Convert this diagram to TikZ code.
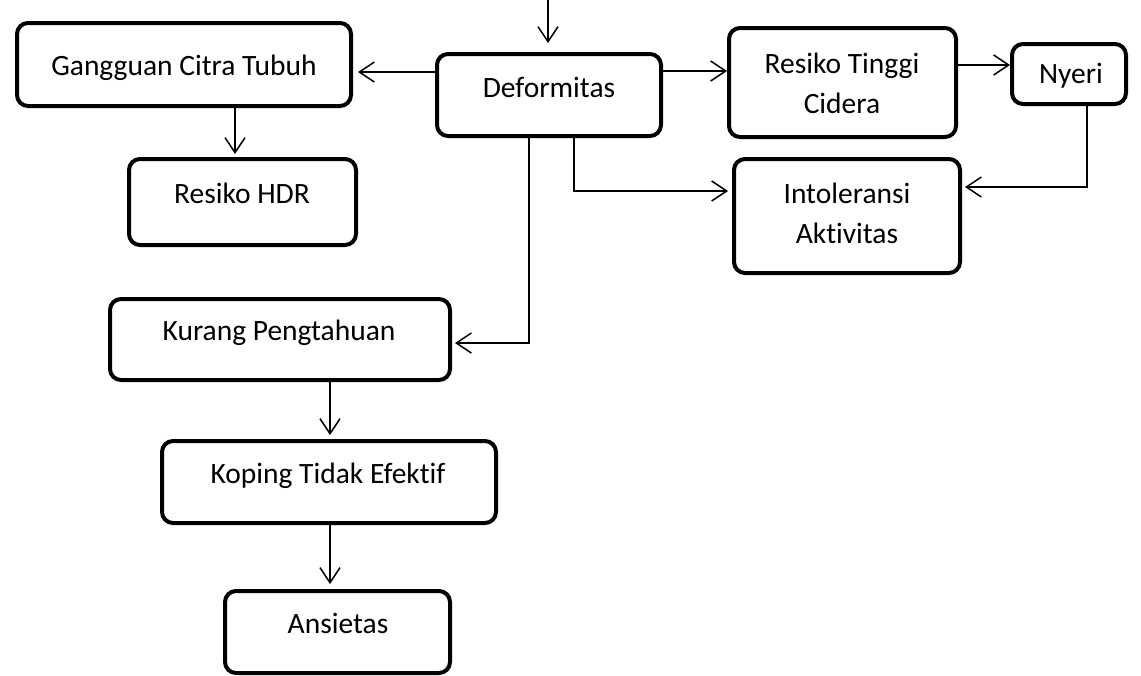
\documentclass[tikz,border=0pt]{standalone}
\usepackage{fontspec}
\setmainfont{Carlito}[Ligatures=NoCommon]
\usetikzlibrary{arrows.meta}
\tikzset{
  box/.style={draw, line width=4pt, rounded corners=11pt, inner sep=0pt},
  lbl/.style={anchor=base, inner sep=0pt, align=center, font=\fontsize{29.5}{40}\selectfont},
  arr/.style={line width=1.5pt, -{Straight Barb[length=15pt,width=20pt]}}
}
\begin{document}
\begin{tikzpicture}[x=1pt,y=-1pt]
\useasboundingbox (0,0) rectangle (1141,675);
% boxes
\node[box, minimum width=334pt, minimum height=83pt] (gct) at (184,64.5) {};
\node[box, minimum width=227pt, minimum height=86pt] (hdr) at (242.5,202) {};
\node[box, minimum width=224pt, minimum height=82pt] (def) at (549,95) {};
\node[box, minimum width=227pt, minimum height=109pt] (rtc) at (842.5,82.5) {};
\node[box, minimum width=114pt, minimum height=60pt] (nye) at (1069,74) {};
\node[box, minimum width=226pt, minimum height=114pt] (into) at (847,216) {};
\node[box, minimum width=340pt, minimum height=81pt] (kp) at (280,339.5) {};
\node[box, minimum width=334pt, minimum height=82pt] (kte) at (329,482) {};
\node[box, minimum width=225pt, minimum height=82pt] (ans) at (337.5,632) {};
% texts
\node[lbl] (tgct) at (184,75) {Gangguan Citra Tubuh};
\node[lbl] (thdr) at (242,203) {Resiko HDR};
\node[lbl] (tdef) at (549,97) {Deformitas};
\node[lbl] (trtc) at (842,113) {Resiko Tinggi\\Cidera};
\node[lbl] (tnye) at (1071,83) {Nyeri};
\node[lbl] (tinto) at (847,243) {Intoleransi\\Aktivitas};
\node[lbl] (tkp) at (279,340) {Kurang Pengtahuan};
\node[lbl] (tkte) at (328,483) {Koping Tidak Efektif};
\node[lbl] (tans) at (338,633) {Ansietas};
% connectors
\coordinate (src) at (548,0);
\draw[arr, shorten >=9pt] (src) -- (def.north -| src);
\draw[arr, shorten >=5pt] (def.west |- 0,72) -- (gct.east |- 0,72);
\draw[arr] (def.east |- 0,71) -- (rtc.west |- 0,71);
\draw[arr] (rtc.east |- 0,65) -- (nye.west |- 0,65);
\draw[arr, shorten >=3pt] (nye.south -| 1087,0) |- (into.east |- 0,187);
\draw[arr, shorten >=4pt] (def.south -| 574,0) |- (into.west |- 0,191);
\draw[arr, shorten >=3pt] (def.south -| 529,0) |- (kp.east |- 0,343);
\draw[arr, shorten >=3pt] (gct.south -| 235,0) -- (hdr.north -| 235,0);
\draw[arr, shorten >=4pt] (kp.south -| 330,0) -- (kte.north -| 330,0);
\draw[arr, shorten >=5pt] (kte.south -| 330,0) -- (ans.north -| 330,0);
\end{tikzpicture}
\end{document}
